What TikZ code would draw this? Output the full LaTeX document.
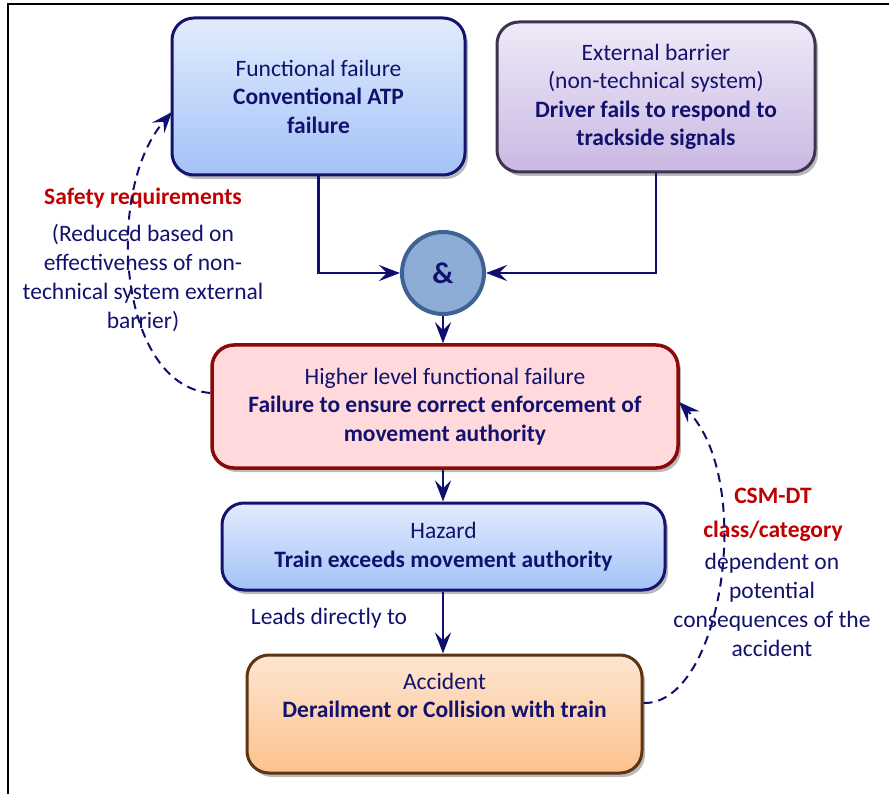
\documentclass[tikz,border=0pt]{standalone}
\usepackage{fontspec}
\setmainfont{Carlito}
\usetikzlibrary{arrows.meta,shadows}

\definecolor{ink}{HTML}{12126E}
\definecolor{wire}{HTML}{0F0F70}
\definecolor{alert}{HTML}{C00000}
\definecolor{blueTop}{HTML}{E2ECFD}
\definecolor{blueBot}{HTML}{A3C2F8}
\definecolor{blueLine}{HTML}{14146E}
\definecolor{lilacTop}{HTML}{EFEAF8}
\definecolor{lilacBot}{HTML}{C9B8E2}
\definecolor{lilacLine}{HTML}{3E3450}
\definecolor{pinkFill}{HTML}{FFD9DC}
\definecolor{pinkLine}{HTML}{8A0A0A}
\definecolor{peachTop}{HTML}{FDE5D2}
\definecolor{peachBot}{HTML}{FCC28C}
\definecolor{peachLine}{HTML}{5C3412}
\definecolor{gateFill}{HTML}{8EADD6}
\definecolor{gateLine}{HTML}{3D6293}

\tikzset{
  x=1pt, y=-1pt,
  every node/.style={text=ink, font=\fontsize{23.5}{28.5}\selectfont},
  card/.style={rounded corners=22pt, line width=3pt, align=center, inner sep=0pt,
    drop shadow={shadow xshift=3pt, shadow yshift=-4pt, opacity=0.45, fill=black!60}},
  bluecard/.style={card, draw=blueLine, top color=blueTop, bottom color=blueBot},
  lilaccard/.style={card, draw=lilacLine, top color=lilacTop, bottom color=lilacBot},
  pinkcard/.style={card, draw=pinkLine, fill=pinkFill, line width=3.5pt},
  peachcard/.style={card, draw=peachLine, top color=peachTop, bottom color=peachBot},
  gate/.style={circle, draw=gateLine, fill=gateFill, line width=4pt, minimum size=82pt, inner sep=0pt,
    font=\fontsize{30}{30}\selectfont\bfseries},
  flow/.style={draw=wire, line width=2.4pt, -{Stealth[length=21pt,width=16pt,inset=8pt]}},
  feedback/.style={draw=wire, line width=2pt, dash pattern=on 9pt off 6pt,
    -{Stealth[length=21pt,width=16pt,inset=8pt]}},
  note/.style={align=center, inner sep=0pt},
}

\begin{document}
\begin{tikzpicture}
\useasboundingbox (0,0) rectangle (889,794);

% outer frame (top and left edges)
\draw[line width=1.5pt, black] (8,794) -- (8,4) -- (889,4);

% boxes
\node[bluecard, minimum width=293pt, minimum height=157pt] (func) at (318.5,96.5)
  {Functional failure\\\textbf{Conventional ATP}\\\textbf{failure}};
\node[lilaccard, minimum width=318pt, minimum height=150pt] (ext) at (656,97)
  {External barrier\\(non-technical system)\\\textbf{Driver fails to respond to}\\\textbf{trackside signals}};
\node[gate] (and) at (443,273) {\&};
\node[pinkcard, minimum width=466pt, minimum height=123pt] (higher) at (445,406.5)
  {Higher level functional failure\\\textbf{Failure to ensure correct enforcement of}\\\textbf{movement authority}};
\node[bluecard, minimum width=443pt, minimum height=87pt] (hazard) at (443.5,546.5)
  {Hazard\\\textbf{Train exceeds movement authority}};
\node[peachcard, minimum width=395pt, minimum height=118pt] (acc) at (444.5,714)
  {Accident\\\textbf{Derailment or Collision with train}\\\strut};

% AND gate inputs and output chain
\draw[flow] (func.south) |- (and.west);
\draw[flow] (ext.south) |- (and.east);
\draw[flow] (and.south) -- (and.south |- higher.north);
\draw[flow] (higher.south -| and) -- (hazard.north -| and);
\draw[flow] (hazard.south -| and) -- (acc.north -| and);

\node[note] (leads) at (329,618) {Leads directly to};

% side annotations
\node[note] (safetyTitle) at (143,198) {\color{alert}\textbf{Safety requirements}};
\node[note, font=\fontsize{23.5}{29}\selectfont] (safetyText) at (143,278.5)
  {(Reduced based on\\effectiveness of non-\\technical system external\\barrier)};
\node[note, font=\fontsize{23.5}{34}\selectfont] (csmTitle) at (773,515)
  {\color{alert}\textbf{CSM-DT}\\\color{alert}\textbf{class/category}};
\node[note, font=\fontsize{23.5}{29}\selectfont] (csmText) at (772,604.5)
  {dependent on\\potential\\consequences of the\\accident};

% dashed feedback arcs
\coordinate (hlW) at (higher.west |- 0,393);
\coordinate (fnW) at (172,112);
\draw[feedback] (hlW) .. controls (118,385) and (104,190) .. (fnW);
\coordinate (acE) at (acc.east |- 0,703);
\coordinate (hlE) at (679,402);
\draw[feedback] (acE) .. controls (722,705) and (756,480) .. (hlE);
\end{tikzpicture}
\end{document}
